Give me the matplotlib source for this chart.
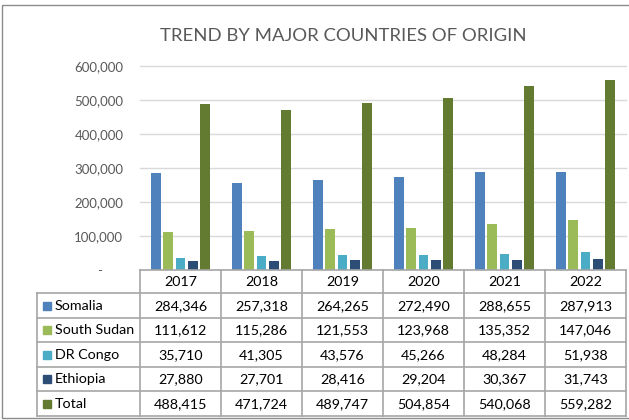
import numpy as np
import matplotlib.pyplot as plt
from matplotlib.patches import Rectangle

years = ['2017', '2018', '2019', '2020', '2021', '2022']
series_names = ['Somalia', 'South Sudan', 'DR Congo', 'Ethiopia', 'Total']
somalia = [284346, 257318, 264265, 272490, 288655, 287913]
south_sudan = [111612, 115286, 121553, 123968, 135352, 147046]
dr_congo = [35710, 41305, 43576, 45266, 48284, 51938]
ethiopia = [27880, 27701, 28416, 29204, 30367, 31743]
total = [488415, 471724, 489747, 504854, 540068, 559282]
colors = ['#4F81BD', '#9BBB59', '#4BACC6', '#2C4D75', '#637A31']
yticks = [0, 100000, 200000, 300000, 400000, 500000, 600000]

plt.rcParams['font.family'] = ['Lato', 'DejaVu Sans']

W, H = 629, 420
fig = plt.figure(figsize=(W / 100, H / 100), dpi=100)

# pixel layout
x0, x1 = 140, 626
y_top, y_zero = 66, 270
row_h = 24.5
hdr_bot = 293
leg_x = 37

ax = fig.add_axes([x0 / W, 1 - y_zero / H, (x1 - x0) / W, (y_zero - y_top) / H])
data = [somalia, south_sudan, dr_congo, ethiopia, total]
x = np.arange(len(years))
bw = 0.123
pitch = 0.154
for i, (vals, c) in enumerate(zip(data, colors)):
    ax.bar(x + (i - 2) * pitch, vals, width=bw, color=c, zorder=3)
ax.set_xlim(-0.5, len(years) - 0.5)
ax.set_ylim(0, 600000)
for t in yticks[1:]:
    ax.axhline(t, color='#D9D9D9', lw=1, zorder=1, clip_on=False)
ax.set_yticks(yticks)
ax.set_yticklabels(['-      ' if t == 0 else f'{t:,}' for t in yticks])
ax.tick_params(axis='y', length=0, labelsize=9.5, labelcolor='#595959', pad=12)
ax.set_xticks([])
for s in ax.spines.values():
    s.set_visible(False)

# overlay for border, title and table
ov = fig.add_axes([0, 0, 1, 1])
ov.set_xlim(0, W)
ov.set_ylim(H, 0)
ov.axis('off')
ov.patch.set_alpha(0)

ov.add_patch(Rectangle((2, 5), W + 10, H - 7, fill=False, ec='#8C8C8C', lw=1))
ov.text(343, 36, 'TREND BY MAJOR COUNTRIES OF ORIGIN', fontsize=13.3,
        color='#595959', ha='center', va='center')

grid_c = '#A6A6A6'
col_w = (x1 - x0) / len(years)
n_rows = len(series_names)
y_bot = hdr_bot + n_rows * row_h
# horizontal lines
ov.plot([x0, x1], [y_zero, y_zero], color=grid_c, lw=1.2)
for r in range(n_rows + 1):
    yy = hdr_bot + r * row_h
    ov.plot([leg_x, x1], [yy, yy], color=grid_c, lw=1.2)
# vertical lines
ov.plot([leg_x, leg_x], [hdr_bot, y_bot], color=grid_c, lw=1.2)
for c in range(len(years) + 1):
    xx = x0 + c * col_w
    ov.plot([xx, xx], [y_zero, y_bot], color=grid_c, lw=1.2)

for c, yr in enumerate(years):
    ov.text(x0 + (c + 0.5) * col_w, (y_zero + hdr_bot) / 2 + 1, yr, fontsize=10.3,
            ha='center', va='center', color='black')
for r, (name, vals, colr) in enumerate(zip(series_names, data, colors)):
    yc = hdr_bot + (r + 0.5) * row_h + 0.5
    ov.add_patch(Rectangle((leg_x + 6, yc - 4), 8, 8, color=colr))
    ov.text(leg_x + 18, yc, name, fontsize=10.3, ha='left', va='center', color='black')
    for c, v in enumerate(vals):
        ov.text(x0 + (c + 0.5) * col_w, yc, f'{v:,}', fontsize=10.3,
                ha='center', va='center', color='black')

fig.savefig('out.png', dpi=100)
